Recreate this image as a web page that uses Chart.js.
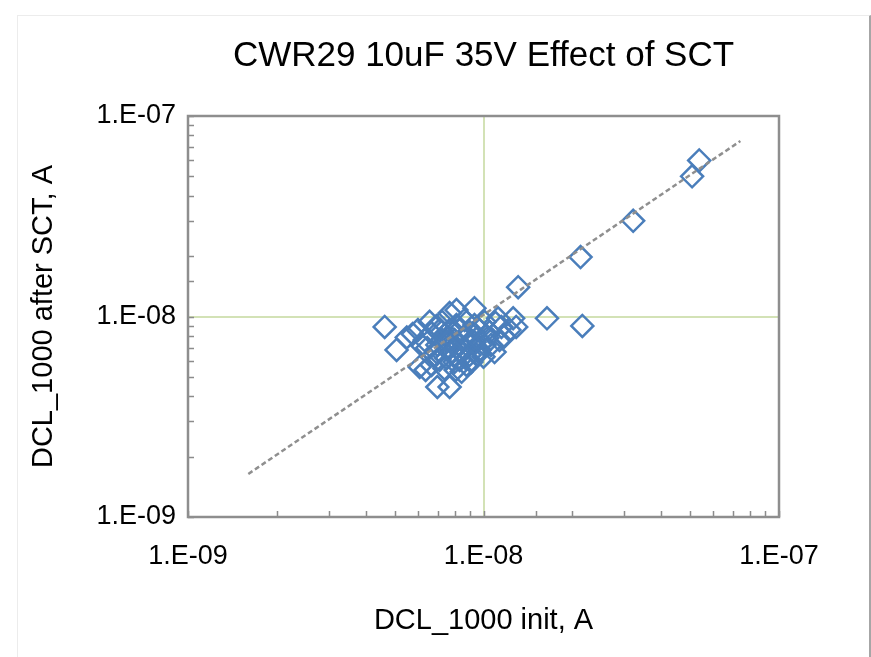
<!DOCTYPE html>
<html>
<head>
<meta charset="utf-8">
<script src="https://cdn.jsdelivr.net/npm/chart.js@4.4.1/dist/chart.umd.min.js"></script>
<style>
  body { margin: 0; background: #fff; }
  #frame { position: absolute; left: 17px; top: 15px; width: 851px; height: 700px;
           border-top: 1px solid #ececec; border-left: 1px solid #ececec; border-right: 2px solid #a6a6a6; }
  #tempChart { position: absolute; left: 0; top: 0; }
</style>
</head>
<body>
<div id="frame"></div>
<canvas id="tempChart" width="871" height="657"></canvas>
<script>
// values (A)
var initX = [
    4.63e-9, 5.08e-9, 5.5e-9, 5.76e-9, 6.08e-9, 6.37e-9, 6.67e-9, 6.98e-9, 7.68e-9, 6.57e-9,
    6.93e-9, 6.45e-9, 6.17e-9, 6.83e-9, 7.1e-9, 7.38e-9, 7.68e-9, 8.1e-9, 9.32e-9, 7.24e-9,
    7.68e-9, 7.98e-9, 8.3e-9, 8.63e-9, 8.97e-9, 8.3e-9, 8.76e-9, 7.98e-9, 7.56e-9, 7.24e-9,
    8.3e-9, 8.83e-9, 9.32e-9, 9.69e-9, 1.008e-8, 1.048e-8, 1.098e-8, 1.15e-8, 1.224e-8, 1.29e-8,
    1.26e-8, 1.133e-8, 1.06e-8, 1.177e-8, 9.32e-9, 8.63e-9, 9.69e-9, 7.8e-9, 8.43e-9, 7.38e-9,
    6.98e-9, 6.67e-9, 8.97e-9, 9.5e-9, 1.03e-8, 8.1e-9, 7.5e-9, 7.1e-9, 6.32e-9, 6.0e-9,
    8.43e-9, 9.1e-9, 1.008e-8, 1.12e-8, 7.8e-9, 8.1e-9, 8.5e-9, 8.97e-9, 7.5e-9, 8.05e-9,
    9.5e-9, 1.0e-8, 1.09e-8, 6.93e-9,
    1.31e-8, 1.64e-8, 2.16e-8, 2.13e-8, 3.21e-8, 5.08e-8, 5.37e-8
];
var afterY = [
    8.87e-9, 6.81e-9, 7.86e-9, 8.18e-9, 5.6e-9, 5.41e-9, 5.73e-9, 4.45e-9, 4.45e-9, 9.4e-9,
    8.96e-9, 6.97e-9, 7.21e-9, 6.43e-9, 6.07e-9, 8.09e-9, 1.04e-8, 1.077e-8, 1.10e-8, 9.4e-9,
    8.56e-9, 7.63e-9, 7.21e-9, 6.81e-9, 6.43e-9, 6.07e-9, 5.73e-9, 5.93e-9, 6.81e-9, 7.63e-9,
    8.56e-9, 7.95e-9, 7.45e-9, 6.81e-9, 7.21e-9, 8.36e-9, 9.3e-9, 8.87e-9, 8.56e-9, 8.87e-9,
    9.8e-9, 7.63e-9, 7.21e-9, 7.95e-9, 9.07e-9, 9.61e-9, 8.56e-9, 6.65e-9, 5.3e-9, 5.5e-9,
    7.21e-9, 8.25e-9, 7.37e-9, 6.43e-9, 7.82e-9, 9.07e-9, 7.5e-9, 8.56e-9, 7.63e-9, 8.56e-9,
    6.65e-9, 5.93e-9, 9.4e-9, 9.8e-9, 7.8e-9, 6.97e-9, 7.8e-9, 8.36e-9, 6.2e-9, 5.41e-9,
    7.8e-9, 6.3e-9, 6.65e-9, 6.65e-9,
    1.40e-8, 9.8e-9, 8.97e-9, 1.98e-8, 3.0e-8, 5.0e-8, 6.0e-8
];
// power trendline end points
var trendX = [1.6e-9, 7.4e-8];
var trendY = [1.64e-9, 7.5e-8];

var tickValues = [1e-9, 1e-8, 1e-7];
var tickLabels = ['1.E-09', '1.E-08', '1.E-07'];

var FONT = "'Liberation Sans', Arial, sans-serif";

function pairs(xs, ys) {
    var out = [];
    for (var i = 0; i < xs.length; i++) {
        out.push({ x: xs[i], y: ys[i] });
    }
    return out;
}

function isDecade(v) {
    var l = Math.log10(v);
    return Math.abs(l - Math.round(l)) < 1e-6;
}

function labelFor(v) {
    for (var i = 0; i < tickValues.length; i++) {
        if (Math.abs(Math.log10(v) - Math.log10(tickValues[i])) < 1e-6) return tickLabels[i];
    }
    return '';
}

// frame round the plot area and small inner tick marks
var framePlugin = {
    id: 'frame',
    beforeDatasetsDraw: function (chart) {
        var a = chart.chartArea, c = chart.ctx;
        var sx = chart.scales.x, sy = chart.scales.y;
        c.save();
        c.strokeStyle = '#8c8c8c';
        c.lineWidth = 1.5;
        c.beginPath();
        sx.ticks.forEach(function (t) {
            var p = Math.round(sx.getPixelForValue(t.value)) + 0.5;
            c.moveTo(p, a.bottom);
            c.lineTo(p, a.bottom - 6);
        });
        sy.ticks.forEach(function (t) {
            var p = Math.round(sy.getPixelForValue(t.value)) + 0.5;
            c.moveTo(a.left, p);
            c.lineTo(a.left + 6, p);
        });
        c.stroke();
        c.lineWidth = 2.5;
        c.strokeStyle = '#8e8e8e';
        c.strokeRect(a.left, a.top, a.right - a.left, a.bottom - a.top);
        c.restore();
    }
};

var ctx = document.getElementById('tempChart').getContext('2d');
var myChart = new Chart(ctx, {
    type: 'scatter',
    data: {
        datasets: [{
            label: 'Trend',
            data: pairs(trendX, trendY),
            showLine: true,
            borderColor: '#8f8f8f',
            borderWidth: 2.5,
            borderDash: [5, 3],
            pointRadius: 0,
            fill: false
        }, {
            label: 'DCL',
            data: pairs(initX, afterY),
            pointStyle: 'rectRot',
            pointRadius: 11,
            borderWidth: 2.5,
            borderColor: '#4A7EBB',
            backgroundColor: 'rgba(0,0,0,0)'
        }]
    },
    options: {
        responsive: false,
        animation: false,
        layout: { padding: { top: 0, right: 92, bottom: 0, left: 0 } },
        plugins: {
            legend: { display: false },
            tooltip: { enabled: false },
            title: {
                display: true,
                fullSize: false,
                text: 'CWR29 10uF 35V Effect of SCT',
                color: '#000',
                font: { family: FONT, size: 35, weight: 'normal' },
                padding: { top: 35, bottom: 39 }
            }
        },
        scales: {
            x: {
                type: 'logarithmic',
                min: 1e-9,
                max: 1e-7,
                afterFit: function (s) { s.height = 140; },
                border: { display: false },
                grid: {
                    drawTicks: false,
                    lineWidth: 2,
                    color: function (c) { return c.tick && isDecade(c.tick.value) ? '#D3E2B6' : 'rgba(0,0,0,0)'; }
                },
                ticks: {
                    autoSkip: false,
                    maxRotation: 0,
                    padding: 23,
                    color: '#000',
                    font: { family: FONT, size: 27 },
                    callback: function (v) { return labelFor(v); }
                },
                title: {
                    display: true,
                    text: 'DCL_1000 init, A',
                    color: '#000',
                    font: { family: FONT, size: 29 },
                    padding: { top: 0, bottom: 19 }
                }
            },
            y: {
                type: 'logarithmic',
                min: 1e-9,
                max: 1e-7,
                afterFit: function (s) { s.width = 188; },
                border: { display: false },
                grid: {
                    drawTicks: false,
                    lineWidth: 2,
                    color: function (c) { return c.tick && isDecade(c.tick.value) ? '#D3E2B6' : 'rgba(0,0,0,0)'; }
                },
                ticks: {
                    autoSkip: false,
                    padding: 12,
                    color: '#000',
                    font: { family: FONT, size: 27 },
                    callback: function (v) { return labelFor(v); }
                },
                title: {
                    display: true,
                    text: 'DCL_1000 after SCT, A',
                    color: '#000',
                    font: { family: FONT, size: 29 },
                    padding: { top: 27, bottom: 0 }
                }
            }
        }
    },
    plugins: [framePlugin]
});
</script>
</body>
</html>
